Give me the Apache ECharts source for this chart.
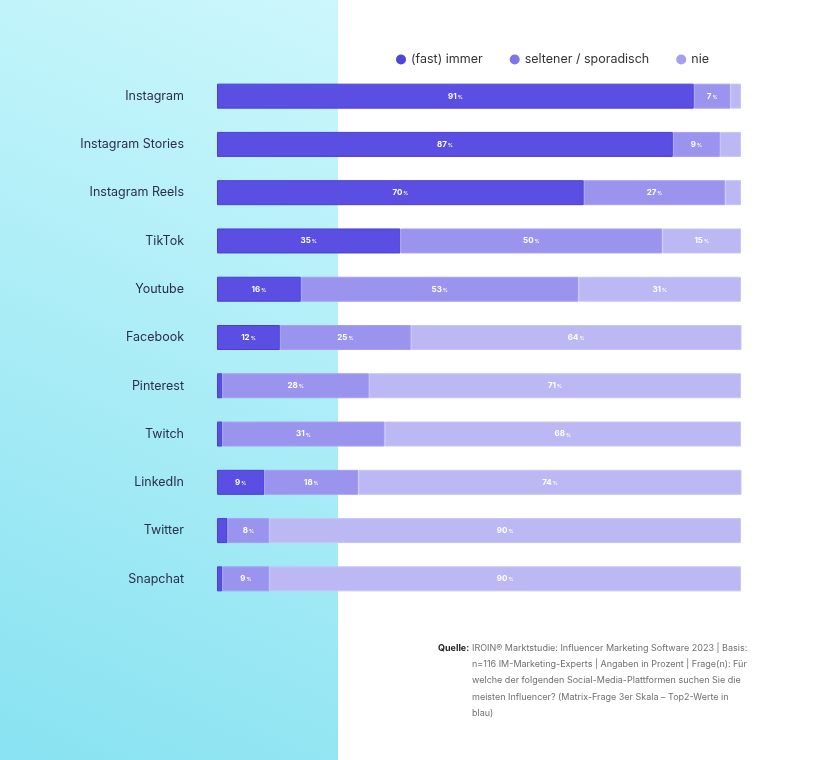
<!DOCTYPE html>
<html>
<head>
<meta charset="utf-8">
<script src="https://cdn.jsdelivr.net/npm/echarts@6/dist/echarts.min.js"></script>
<style>
  html, body { margin: 0; padding: 0; background: #fff; }
  #chart { width: 840px; height: 760px; }
</style>
</head>
<body>
<div id="chart"></div>
<script>
// Plattformen (von oben nach unten)
let platforms = ['Instagram', 'Instagram Stories', 'Instagram Reels', 'TikTok', 'Youtube',
    'Facebook', 'Pinterest', 'Twitch', 'LinkedIn', 'Twitter', 'Snapchat'];

// Werte in Prozent
let immer = [91, 87, 70, 35, 16, 12, 1, 1, 9, 2, 1];
let selten = [7, 9, 27, 50, 53, 25, 28, 31, 18, 8, 9];
let nie = [2, 4, 3, 15, 31, 64, 71, 68, 74, 90, 90];

let seriesNames = ['(fast) immer', 'seltener / sporadisch', 'nie'];

let sourceLines = [
    'IROIN® Marktstudie: Influencer Marketing Software 2023 | Basis:',
    'n=116 IM-Marketing-Experts | Angaben in Prozent | Frage(n): Für',
    'welche der folgenden Social-Media-Plattformen suchen Sie die',
    'meisten Influencer? (Matrix-Frage 3er Skala – Top2-Werte in',
    'blau)'
];

const FONT = 'Inter, "Noto Sans", sans-serif';

/* Balken-Label: Zahl fett + kleines % */
function pctLabel(p) {
    if (p.value < 5) return '';
    return '{v|' + p.value + '}{p|%}';
}

function makeSeries(name, data, color, border) {
    return {
        name: name,
        type: 'bar',
        stack: 'total',
        barWidth: 25,
        data: data,
        itemStyle: {color: color, borderColor: border, borderWidth: 1},
        label: {
            show: true,
            position: 'inside',
            formatter: pctLabel,
            rich: {
                v: {color: '#fff', fontSize: 8, fontWeight: 'bold', fontFamily: FONT},
                p: {color: '#fff', fontSize: 5, fontWeight: 'bold', fontFamily: FONT, padding: [2, 0, 0, 1]}
            }
        },
        emphasis: {disabled: true}
    };
}

let chart = echarts.init(document.getElementById('chart'));
let option = {
    animation: false,
    textStyle: {fontFamily: FONT},
    graphic: [
        {
            type: 'rect',
            z: -10,
            shape: {x: 0, y: 0, width: 338, height: 760},
            style: {
                fill: new echarts.graphic.LinearGradient(0, 1, 1, 0, [
                    {offset: 0, color: '#88e2f1'},
                    {offset: 1, color: '#ccf7fc'}
                ])
            }
        },
        {
            type: 'text',
            left: 438, top: 640,
            style: {text: 'Quelle:', fontSize: 9, lineHeight: 16.3, fontWeight: 'bold', fill: '#222', fontFamily: FONT}
        },
        {
            type: 'text',
            left: 472, top: 640,
            style: {
                text: sourceLines.join('\n'),
                fontSize: 9, lineHeight: 16.3, fill: '#6f6f6f', fontFamily: FONT
            }
        }
    ],
    legend: {
        top: 48,
        left: 391,
        icon: 'circle',
        itemWidth: 10,
        itemHeight: 10,
        itemGap: 27,
        textStyle: {fontSize: 12.5, color: '#333', fontFamily: FONT},
        data: [
            {name: seriesNames[0], itemStyle: {color: '#4f45dd', borderWidth: 0}},
            {name: seriesNames[1], itemStyle: {color: '#7d74ea', borderWidth: 0}},
            {name: seriesNames[2], itemStyle: {color: '#a59ef1', borderWidth: 0}}
        ]
    },
    grid: {left: 217, right: 99, top: 72, bottom: 157},
    xAxis: {
        type: 'value',
        min: 0,
        max: 100,
        show: false
    },
    yAxis: {
        type: 'category',
        inverse: true,
        data: platforms,
        axisLine: {show: false},
        axisTick: {show: false},
        axisLabel: {color: '#2b2e4a', fontSize: 12.5, margin: 33, fontFamily: FONT}
    },
    series: [
        makeSeries(seriesNames[0], immer, '#5a4fe2', '#4a3fd8'),
        makeSeries(seriesNames[1], selten, '#9b94ef', '#a7a0f2'),
        makeSeries(seriesNames[2], nie, '#bcb8f4', '#c8c4f7')
    ]
};
chart.setOption(option);
</script>
</body>
</html>
